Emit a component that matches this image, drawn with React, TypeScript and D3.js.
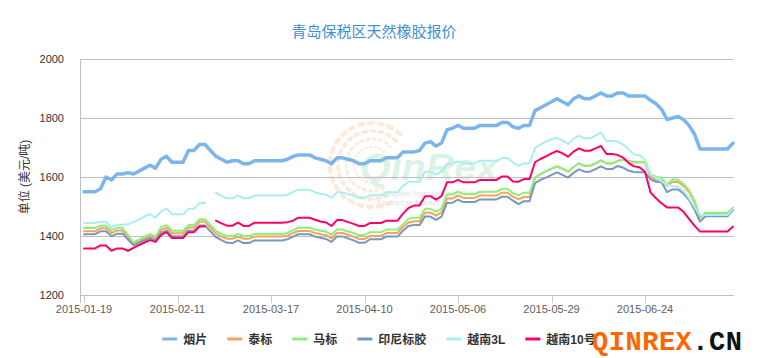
import React, { useEffect, useRef } from 'react';
import * as d3 from 'd3';

// x axis: one point per trading day, a label every 17 points
const tickIndex = [0, 17, 34, 51, 68, 85, 102];
const tickLabels = ['2015-01-19', '2015-02-11', '2015-03-17', '2015-04-10', '2015-05-06', '2015-05-29', '2015-06-24'];
const yTicks = [1200, 1400, 1600, 1800, 2000];

const seriesNames = ['烟片', '泰标', '马标', '印尼标胶', '越南3L', '越南10号'];
const seriesColors = ['#7cb5ec', '#f7a35c', '#90ee7e', '#7798bf', '#aaeeee', '#ff0066'];

const yanpian = [
  1550, 1550, 1550, 1560, 1600, 1590, 1610, 1610, 1615, 1610,
  1620, 1630, 1640, 1630, 1660, 1670, 1650, 1650, 1650, 1690,
  1690, 1710, 1710, 1690, 1670, 1660, 1650, 1655, 1655, 1645,
  1645, 1655, 1655, 1655, 1655, 1655, 1655, 1660, 1670, 1675,
  1675, 1675, 1665, 1660, 1655, 1645, 1665, 1665, 1660, 1655,
  1645, 1645, 1655, 1655, 1655, 1665, 1665, 1665, 1685, 1685,
  1685, 1690, 1715, 1720, 1705, 1715, 1760, 1765, 1775, 1765,
  1765, 1765, 1775, 1775, 1775, 1775, 1785, 1785, 1770, 1765,
  1775, 1775, 1825, 1835, 1845, 1855, 1865, 1855, 1845, 1865,
  1875, 1865, 1865, 1875, 1885, 1875, 1875, 1885, 1885, 1875,
  1875, 1875, 1875, 1860, 1848, 1830, 1795, 1800, 1805, 1795,
  1775, 1745, 1695, 1695, 1695, 1695, 1695, 1695, 1715,
];

const taibiao = [
  1416, 1416, 1416, 1426, 1426, 1410, 1419, 1419, 1397, 1374,
  1383, 1391, 1400, 1391, 1420, 1428, 1409, 1409, 1409, 1429,
  1429, 1449, 1449, 1428, 1408, 1398, 1391, 1391, 1398, 1391,
  1391, 1398, 1398, 1398, 1398, 1398, 1398, 1401, 1410, 1417,
  1417, 1417, 1410, 1406, 1403, 1392, 1410, 1410, 1404, 1398,
  1390, 1390, 1400, 1400, 1400, 1410, 1410, 1410, 1430, 1446,
  1450, 1450, 1479, 1479, 1469, 1480, 1527, 1527, 1537, 1529,
  1529, 1529, 1537, 1537, 1537, 1537, 1547, 1547, 1533, 1525,
  1532, 1532, 1598, 1610, 1620, 1628, 1636, 1628, 1618, 1634,
  1646, 1638, 1638, 1646, 1656, 1646, 1646, 1654, 1658, 1654,
  1650, 1650, 1650, 1600, 1590, 1588, 1570, 1583, 1583, 1570,
  1550, 1515, 1462, 1477, 1477, 1477, 1477, 1477, 1494,
];

const mabiao = [
  1427, 1427, 1427, 1435, 1435, 1420, 1428, 1428, 1403, 1378,
  1388, 1398, 1407, 1398, 1430, 1437, 1418, 1418, 1418, 1437,
  1437, 1457, 1457, 1437, 1417, 1407, 1400, 1400, 1407, 1400,
  1400, 1407, 1407, 1407, 1407, 1407, 1407, 1410, 1420, 1428,
  1428, 1428, 1422, 1418, 1415, 1404, 1422, 1422, 1415, 1410,
  1403, 1403, 1413, 1413, 1413, 1422, 1422, 1422, 1440, 1458,
  1462, 1462, 1492, 1492, 1482, 1494, 1541, 1541, 1550, 1542,
  1542, 1542, 1550, 1550, 1550, 1550, 1560, 1560, 1545, 1538,
  1547, 1547, 1598, 1610, 1620, 1628, 1636, 1628, 1618, 1634,
  1646, 1638, 1638, 1646, 1656, 1646, 1646, 1654, 1658, 1654,
  1650, 1650, 1650, 1610, 1600, 1598, 1575, 1592, 1591, 1577,
  1555, 1520, 1464, 1479, 1479, 1479, 1479, 1479, 1496,
];

const yinni = [
  1406, 1406, 1406, 1416, 1416, 1399, 1408, 1408, 1388, 1368,
  1377, 1385, 1393, 1385, 1411, 1418, 1399, 1399, 1399, 1418,
  1418, 1436, 1436, 1415, 1396, 1386, 1377, 1376, 1385, 1376,
  1376, 1385, 1385, 1385, 1385, 1385, 1385, 1389, 1398, 1406,
  1406, 1406, 1398, 1394, 1390, 1380, 1398, 1398, 1392, 1385,
  1377, 1377, 1389, 1389, 1389, 1398, 1398, 1398, 1418, 1434,
  1437, 1437, 1466, 1466, 1455, 1466, 1512, 1513, 1523, 1515,
  1515, 1515, 1524, 1524, 1524, 1524, 1533, 1533, 1520, 1508,
  1518, 1518, 1579, 1590, 1598, 1607, 1616, 1607, 1598, 1614,
  1626, 1618, 1618, 1627, 1636, 1627, 1627, 1637, 1632, 1622,
  1617, 1616, 1616, 1592, 1584, 1582, 1549, 1558, 1558, 1544,
  1523, 1490, 1449, 1467, 1467, 1467, 1467, 1467, 1488,
];

const yuenan3L = [
  1444, 1444, 1444, 1448, 1448, 1430, 1438, 1438, 1440, 1447,
  1456, 1466, 1474, 1462, 1483, 1493, 1474, 1474, 1474, 1492,
  1492, 1512, 1512, null, 1547, 1535, 1528, 1528, 1537, 1528,
  1528, 1537, 1537, 1537, 1537, 1537, 1537, 1540, 1550, 1557,
  1557, 1557, 1548, 1543, 1540, 1529, 1548, 1548, 1542, 1537,
  1529, 1529, 1538, 1538, 1538, 1548, 1548, 1548, 1570, 1584,
  1584, 1584, 1618, 1618, 1608, 1618, 1645, 1645, 1653, 1646,
  1646, 1646, 1655, 1655, 1655, 1655, 1664, 1664, 1650, 1638,
  1646, 1646, 1697, 1710, 1720, 1728, 1733, 1723, 1712, 1730,
  1740, 1731, 1731, 1740, 1751, 1722, 1722, 1720, 1710, 1695,
  1676, 1674, 1660, 1608, 1597, 1585, 1574, 1570, 1567, 1553,
  1528, 1498, 1471, 1471, 1471, 1471, 1471, 1471, 1492,
];

const yuenan10 = [
  1358, 1358, 1358, 1368, 1368, 1350, 1358, 1358, 1350, 1360,
  1369, 1378, 1386, 1380, 1403, 1413, 1393, 1393, 1393, 1413,
  1413, 1432, 1432, null, 1452, 1443, 1435, 1435, 1445, 1434,
  1434, 1445, 1445, 1445, 1445, 1445, 1445, 1447, 1452, 1462,
  1462, 1462, 1455, 1449, 1446, 1434, 1454, 1454, 1447, 1441,
  1434, 1434, 1444, 1444, 1444, 1452, 1452, 1452, 1476, 1495,
  1503, 1503, 1535, 1535, 1523, 1535, 1582, 1582, 1590, 1582,
  1582, 1582, 1590, 1590, 1590, 1590, 1602, 1602, 1585, 1584,
  1593, 1593, 1650, 1661, 1670, 1680, 1688, 1680, 1669, 1686,
  1697, 1689, 1689, 1697, 1705, 1678, 1678, 1675, 1666, 1648,
  1636, 1633, 1618, 1548, 1528, 1511, 1497, 1497, 1497, 1482,
  1458, 1435, 1415, 1415, 1415, 1415, 1415, 1415, 1432,
];

const seriesData = [yanpian, taibiao, mabiao, yinni, yuenan3L, yuenan10];
const seriesWidths = [3.5, 2, 2, 2, 2, 2];

const FONT = '"Liberation Sans", "Noto Sans CJK SC", sans-serif';

const App = () => {
  const svgRef = useRef<SVGSVGElement>(null);

  useEffect(() => {
    const svg = d3.select(svgRef.current);
    svg.selectAll('*').remove();

    const width = 759;
    const height = 358;
    const plot = { left: 80, right: 734, top: 59, bottom: 295 };

    svg.attr('width', width).attr('height', height);

    svg.append('rect').attr('width', width).attr('height', height).attr('fill', '#ffffff');

    const x = d3.scaleLinear().domain([0, yanpian.length - 1]).range([84, 733]);
    const y = d3.scaleLinear().domain([1200, 2000]).range([plot.bottom, plot.top]);

    // faint exchange logo behind the plot
    const logo = svg.append('g').attr('opacity', 0.4);
    [18, 26, 34, 42].forEach((r, k) => {
      const p = d3.path();
      p.arc(372, 165, r, Math.PI * 0.35, Math.PI * 1.75);
      logo.append('path')
        .attr('d', p.toString())
        .attr('fill', 'none')
        .attr('stroke', '#fbc9a3')
        .attr('stroke-width', 2 + k * 0.8)
        .attr('stroke-dasharray', `${1.5 + k * 0.8},${3 + k}`)
        .attr('stroke-linecap', 'round');
    });
    logo.append('text')
      .attr('x', 360).attr('y', 180)
      .attr('textLength', 138).attr('lengthAdjust', 'spacingAndGlyphs')
      .style('font-family', FONT).style('font-size', '36px')
      .style('font-weight', 'bold').style('font-style', 'italic')
      .attr('fill', '#a8e0bf')
      .text('QinRex');
    logo.append('text')
      .attr('x', 381).attr('y', 196)
      .style('font-family', FONT).style('font-size', '8px').style('font-style', 'italic')
      .attr('fill', '#b8b8b8')
      .text('Qingdao International Rubber');
    logo.append('text')
      .attr('x', 377).attr('y', 205)
      .style('font-family', FONT).style('font-size', '8px').style('font-style', 'italic')
      .attr('fill', '#b8b8b8')
      .text('Exchange Market');

    // grid lines
    svg.append('g')
      .selectAll('line')
      .data(yTicks)
      .enter().append('line')
      .attr('x1', plot.left).attr('x2', plot.right)
      .attr('y1', d => y(d) + 0.5).attr('y2', d => y(d) + 0.5)
      .attr('stroke', '#c0c0c0').attr('stroke-width', 1);

    // left axis line
    svg.append('line')
      .attr('x1', plot.left + 0.5).attr('x2', plot.left + 0.5)
      .attr('y1', plot.top).attr('y2', plot.bottom + 8)
      .attr('stroke', '#c0c0c0');

    // y labels
    svg.append('g')
      .selectAll('text')
      .data(yTicks)
      .enter().append('text')
      .attr('x', 64).attr('y', d => y(d) + 4)
      .attr('text-anchor', 'end')
      .style('font-family', FONT).style('font-size', '11px')
      .attr('fill', '#333')
      .text(d => d);

    // y title
    svg.append('text')
      .attr('transform', 'translate(29,177) rotate(-90)')
      .attr('text-anchor', 'middle')
      .style('font-family', FONT).style('font-size', '12px')
      .attr('fill', '#333')
      .text('单位 (美元/吨)');

    // x ticks + labels
    svg.append('g')
      .selectAll('line')
      .data(tickIndex)
      .enter().append('line')
      .attr('x1', d => Math.round(x(d)) + 0.5).attr('x2', d => Math.round(x(d)) + 0.5)
      .attr('y1', plot.bottom).attr('y2', plot.bottom + 8)
      .attr('stroke', '#c0d0e0');

    svg.append('g')
      .selectAll('text')
      .data(tickIndex)
      .enter().append('text')
      .attr('x', d => x(d)).attr('y', 313)
      .attr('text-anchor', 'middle')
      .style('font-family', FONT).style('font-size', '11px')
      .attr('fill', '#606060')
      .text((d, i) => tickLabels[i]);

    // series
    const line = d3.line<number | null>()
      .defined(d => d != null)
      .x((d, i) => x(i))
      .y(d => y(d as number));

    seriesData.forEach((data, k) => {
      svg.append('path')
        .datum(data)
        .attr('fill', 'none')
        .attr('stroke', seriesColors[k])
        .attr('stroke-width', seriesWidths[k])
        .attr('stroke-linejoin', 'round')
        .attr('stroke-linecap', 'round')
        .attr('d', line);
    });

    // title
    svg.append('text')
      .attr('x', 374).attr('y', 37)
      .attr('text-anchor', 'middle')
      .style('font-family', FONT).style('font-size', '15px')
      .attr('fill', '#3d8fd6')
      .text('青岛保税区天然橡胶报价');

    // legend, laid out from measured text widths
    const legend = svg.append('g');
    const items = seriesNames.map((name, k) => {
      const g = legend.append('g');
      g.append('line')
        .attr('x1', 0).attr('x2', 15)
        .attr('y1', 0).attr('y2', 0)
        .attr('stroke', seriesColors[k]).attr('stroke-width', 3);
      const t = g.append('text')
        .attr('x', 21).attr('y', 4.5)
        .style('font-family', FONT).style('font-size', '12px').style('font-weight', 'bold')
        .attr('fill', '#333')
        .text(name);
      const w = (t.node() as SVGTextElement).getComputedTextLength();
      return { g, w: 21 + w };
    });
    const total = d3.sum(items, d => d.w) + 20 * (items.length - 1);
    let cx = 379 - total / 2;
    items.forEach(it => {
      it.g.attr('transform', `translate(${cx},339)`);
      cx += it.w + 20;
    });

    // site watermark
    const mark = svg.append('text')
      .attr('x', 592).attr('y', 350)
      .attr('textLength', 150).attr('lengthAdjust', 'spacing')
      .style('font-family', '"Liberation Mono", "DejaVu Sans Mono", monospace')
      .style('font-size', '27px').style('font-weight', 'bold');
    mark.append('tspan').attr('fill', '#ff6600').text('QINREX');
    mark.append('tspan').attr('fill', '#111111').text('.CN');
  }, []);

  return (
    <svg ref={svgRef} style={{ position: 'absolute', left: 0, top: 0 }}></svg>
  );
};

export default App;
